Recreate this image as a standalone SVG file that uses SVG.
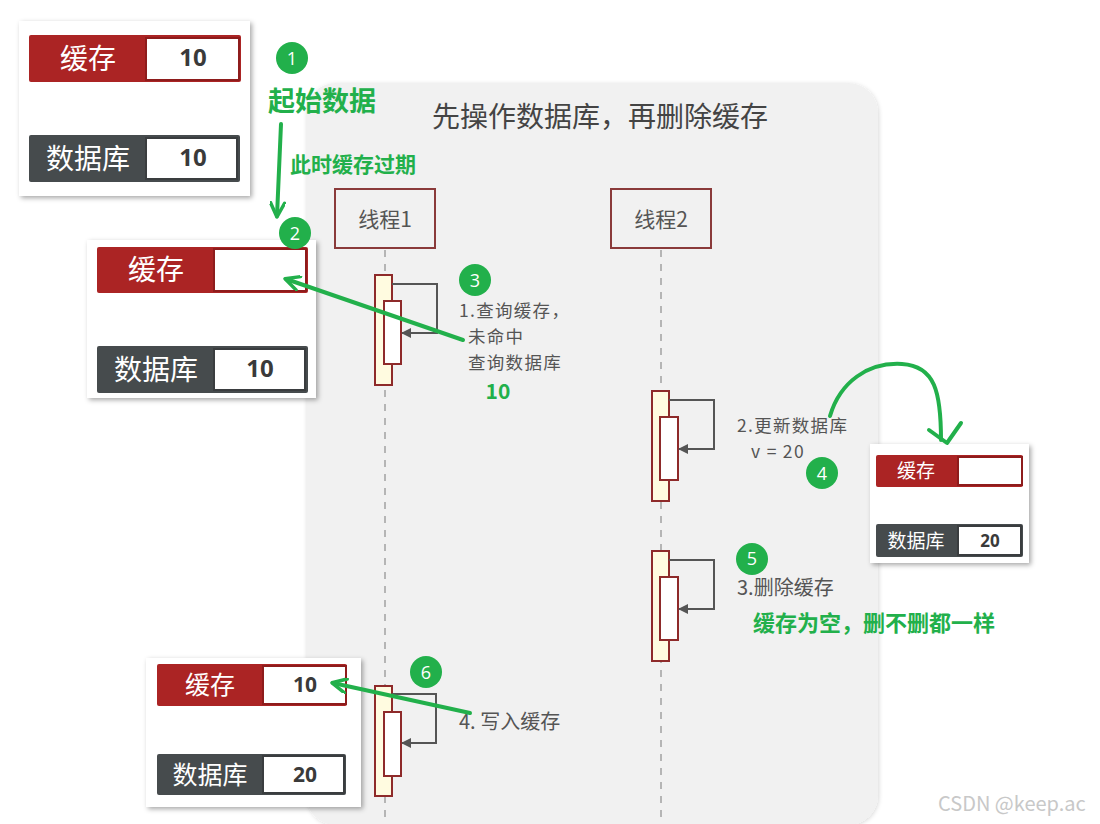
<svg xmlns="http://www.w3.org/2000/svg" width="1100" height="824" viewBox="0 0 1100 824">
<defs>
<filter id="sh" x="-10%" y="-10%" width="125%" height="125%"><feDropShadow dx="2" dy="2" stdDeviation="2.5" flood-color="#000" flood-opacity="0.35"/></filter>
<filter id="psh" x="-5%" y="-5%" width="110%" height="110%"><feDropShadow dx="1" dy="1" stdDeviation="2" flood-color="#000" flood-opacity="0.15"/></filter>
<marker id="ah" markerWidth="10" markerHeight="10" refX="9" refY="5" orient="auto" markerUnits="userSpaceOnUse"><path d="M0,0 L10,5 L0,10 z" fill="#555"/></marker>
<marker id="gah" markerWidth="18" markerHeight="16" refX="15" refY="8" orient="auto" markerUnits="userSpaceOnUse"><path d="M2,1 L16,8 L2,15" fill="none" stroke="#22b04b" stroke-width="3.5" stroke-linecap="round" stroke-linejoin="round"/></marker>
</defs>
<style>
text{font-family:"Noto Sans CJK SC","Liberation Sans",sans-serif}
.card{fill:#fff;filter:url(#sh)}
.red{fill:#ab2424}
.dark{fill:#464b4d}
.valr{fill:#fff;stroke:#8e1c1c;stroke-width:2}
.vald{fill:#fff;stroke:#3a3d3f;stroke-width:2}
.lbl{fill:#fff;text-anchor:middle}
.num{fill:#3a3a3a;font-weight:bold;text-anchor:middle;font-family:"Open Sans","Liberation Sans",sans-serif}
.thr{fill:none;stroke:#8a3a3a;stroke-width:2}
.life{stroke:#b5b5b5;stroke-width:2;stroke-dasharray:7,7}
.act{fill:#fffbe0;stroke:#8e2a2a;stroke-width:2}
.act2{fill:#fff;stroke:#8e2a2a;stroke-width:2}
.msg{fill:none;stroke:#555;stroke-width:2}
.t{fill:#555;font-size:20px}
.tm{fill:#555;font-size:17.5px;letter-spacing:1.3px}
.g{fill:#22b04b;font-weight:bold}
.gc{fill:#22b04b}
.gn{fill:#fff;font-size:18px;text-anchor:middle;font-family:"Open Sans","Liberation Sans",sans-serif}
.garr{fill:none;stroke:#22b04b;stroke-width:4;stroke-linecap:round}
</style>
<rect width="1100" height="824" fill="#fff"/>
<rect x="306" y="83" width="572" height="742" rx="30" fill="#f1f1f1" filter="url(#psh)"/>
<text x="600" y="127" font-size="28" fill="#444" text-anchor="middle">先操作数据库，再删除缓存</text>

<g id="thread1"><rect class="thr" x="335" y="189" width="100" height="59"/><text x="385" y="227" font-size="21" fill="#555" text-anchor="middle">线程1</text></g>
<g id="thread2"><rect class="thr" x="611" y="189" width="100" height="59"/><text x="661" y="227" font-size="21" fill="#555" text-anchor="middle">线程2</text></g>

<g id="connectors">
<line class="life" x1="385" y1="250" x2="385" y2="824"/>
<line class="life" x1="661" y1="250" x2="661" y2="824"/>
</g>

<g id="act1">
<rect class="act" x="375" y="275" width="17" height="110"/>
<rect class="act2" x="384" y="301" width="17" height="63"/>
<path class="msg" d="M392,284 H437 V333 H402" marker-end="url(#ah)"/>
<text class="tm" x="459" y="317">1.查询缓存，</text>
<text class="tm" x="468" y="343">未命中</text>
<text class="tm" x="468" y="369">查询数据库</text>
<text class="g" x="498" y="399" font-size="21" text-anchor="middle" font-family="Open Sans,Liberation Sans,sans-serif">10</text>
</g>

<g id="act2">
<rect class="act" x="652" y="391" width="17" height="110"/>
<rect class="act2" x="660" y="417" width="18" height="63"/>
<path class="msg" d="M669,400 H714 V449 H679" marker-end="url(#ah)"/>
<text class="tm" x="737" y="432">2.更新数据库</text>
<text class="tm" x="751" y="458">v = 20</text>
</g>

<g id="act3">
<rect class="act" x="652" y="551" width="17" height="110"/>
<rect class="act2" x="660" y="577" width="18" height="63"/>
<path class="msg" d="M669,560 H714 V609 H679" marker-end="url(#ah)"/>
<text class="t" x="737" y="595">3.删除缓存</text>
<text class="g" x="753" y="631" font-size="22">缓存为空，删不删都一样</text>
</g>

<g id="act4">
<rect class="act" x="375" y="686" width="17" height="110"/>
<rect class="act2" x="384" y="712" width="17" height="64"/>
<path class="msg" d="M392,694 H436 V743 H402" marker-end="url(#ah)"/>
<text class="t" x="459" y="729">4. 写入缓存</text>
</g>

<g id="card1">
<rect class="card" x="19" y="21" width="231" height="175"/>
<rect class="red" x="29" y="35" width="212" height="47" rx="2"/>
<rect class="valr" x="146" y="38" width="93" height="42"/>
<text class="lbl" x="88" y="69" font-size="28">缓存</text>
<text class="num" x="193" y="66" font-size="24">10</text>
<rect class="dark" x="29" y="135" width="211" height="47" rx="2"/>
<rect class="vald" x="146" y="138" width="91" height="41"/>
<text class="lbl" x="88" y="169" font-size="28">数据库</text>
<text class="num" x="193" y="166" font-size="24">10</text>
</g>

<g id="card2">
<rect class="card" x="87" y="240" width="229" height="158"/>
<rect class="red" x="97" y="247" width="211" height="46" rx="2"/>
<rect class="valr" x="214" y="249" width="92" height="42"/>
<text class="lbl" x="156" y="280" font-size="28">缓存</text>
<rect class="dark" x="97" y="346" width="211" height="47" rx="2"/>
<rect class="vald" x="214" y="349" width="91" height="41"/>
<text class="lbl" x="156" y="380" font-size="28">数据库</text>
<text class="num" x="260" y="377" font-size="24">10</text>
</g>

<g id="card4">
<rect class="card" x="870" y="444" width="159" height="119"/>
<rect class="red" x="876" y="455" width="147" height="32" rx="2"/>
<rect class="valr" x="958" y="457" width="64" height="28"/>
<text class="lbl" x="916" y="478" font-size="19">缓存</text>
<rect class="dark" x="876" y="524" width="147" height="33" rx="2"/>
<rect class="vald" x="958" y="526" width="63" height="29"/>
<text class="lbl" x="916" y="548" font-size="19">数据库</text>
<text class="num" x="990" y="547" font-size="17">20</text>
</g>

<g id="card6">
<rect class="card" x="146" y="658" width="215" height="149"/>
<rect class="red" x="157" y="664" width="190" height="42" rx="2"/>
<rect class="valr" x="263" y="666" width="83" height="38"/>
<text class="lbl" x="210" y="694" font-size="25">缓存</text>
<text class="num" x="305" y="692" font-size="21">10</text>
<rect class="dark" x="157" y="754" width="189" height="41" rx="2"/>
<rect class="vald" x="263" y="756" width="81" height="37"/>
<text class="lbl" x="210" y="784" font-size="25">数据库</text>
<text class="num" x="305" y="782" font-size="21">20</text>
</g>

<g id="annotations">
<circle class="gc" cx="292" cy="58" r="16"/><text class="gn" x="292" y="65">1</text>
<text class="g" x="268" y="111" font-size="27">起始数据</text>
<path class="garr" d="M281,124 L277,216" marker-end="url(#gah)"/>
<text class="g" x="290" y="172" font-size="21">此时缓存过期</text>
<circle class="gc" cx="295" cy="233" r="16"/><text class="gn" x="295" y="240">2</text>
<circle class="gc" cx="475" cy="280" r="16"/><text class="gn" x="475" y="287">3</text>
<path class="garr" d="M463,340 L286,279" marker-end="url(#gah)"/>
<circle class="gc" cx="822" cy="473" r="16"/><text class="gn" x="822" y="480">4</text>
<path class="garr" d="M830,416 C840,382 868,362 902,364 C935,366 941,392 941,440"/>
<path class="garr" d="M929,430 L947,443 L961,423" stroke-linejoin="round"/>
<circle class="gc" cx="752" cy="559" r="16"/><text class="gn" x="752" y="565" font-size="17">5</text>
<circle class="gc" cx="426" cy="672" r="16"/><text class="gn" x="426" y="679">6</text>
<path class="garr" d="M470,713 L333,683" marker-end="url(#gah)"/>
</g>
<text x="938" y="811" font-size="20" fill="#c8c8c8" font-family="Liberation Sans,sans-serif">CSDN @keep.ac</text>
</svg>
